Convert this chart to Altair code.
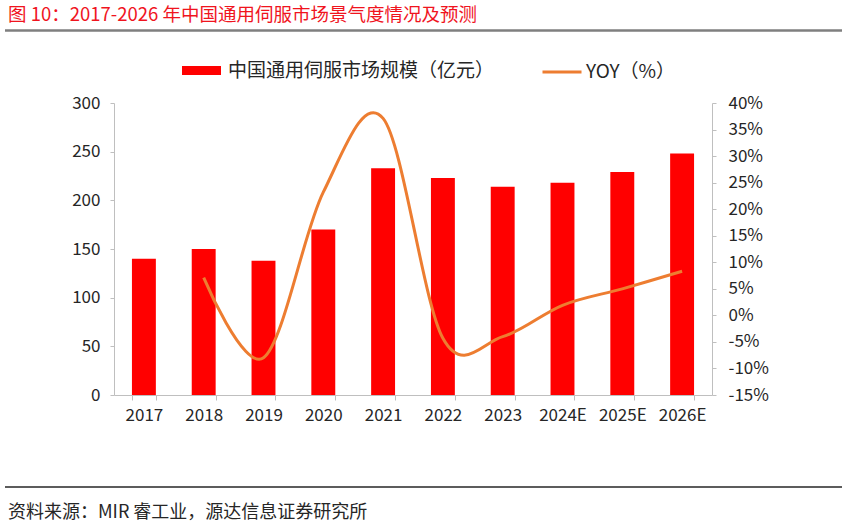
import altair as alt
import pandas as pd

years = ["2017", "2018", "2019", "2020", "2021", "2022", "2023", "2024E", "2025E", "2026E"]
market_size = [140, 150, 138, 170, 233, 223, 214, 218, 229, 248]
yoy_years = ["2018", "2019", "2020", "2021", "2022", "2023", "2024E", "2025E", "2026E"]
yoy_values = [7.1, -8.0, 23.2, 37.1, -4.3, -4.0, 1.9, 5.0, 8.3]
left_ticks = [0, 50, 100, 150, 200, 250, 300]
right_ticks = [-15, -10, -5, 0, 5, 10, 15, 20, 25, 30, 35, 40]

BAR_LABEL = "中国通用伺服市场规模（亿元）"
LINE_LABEL = "YOY（%）"
TITLE = "图 10：2017-2026 年中国通用伺服市场景气度情况及预测"
SOURCE = "资料来源：MIR 睿工业，源达信息证券研究所"

CJK = "Noto Sans CJK SC"

bars_df = pd.DataFrame({"year": years, "value": market_size, "series": BAR_LABEL})
line_df = pd.DataFrame({"year": yoy_years, "yoy": yoy_values, "series": LINE_LABEL})
one = pd.DataFrame({"k": [0]})

x_enc = alt.X(
    "year:N",
    sort=years,
    scale=alt.Scale(paddingInner=0.6, paddingOuter=0.3),
    axis=alt.Axis(
        title=None, labelAngle=0, tickBand="extent", domainColor="#BFBFBF",
        tickColor="#BFBFBF", tickSize=5, labelFont=CJK, labelFontSize=17,
        labelColor="#262626", labelPadding=7,
    ),
)

bars = alt.Chart(bars_df).mark_bar(color="#FF0000").encode(
    x=x_enc,
    y=alt.Y(
        "value:Q",
        scale=alt.Scale(domain=[0, 300], nice=False, zero=True),
        axis=alt.Axis(
            title=None, values=left_ticks, grid=False, domainColor="#BFBFBF",
            tickColor="#BFBFBF", tickSize=4, labelFont=CJK, labelFontSize=17,
            labelColor="#262626", labelPadding=10,
        ),
    ),
    fill=alt.Fill(
        "series:N",
        scale=alt.Scale(domain=[BAR_LABEL], range=["#FF0000"]),
        legend=alt.Legend(
            title=None, orient="none", legendX=68, legendY=-52, padding=0,
            symbolType="M-1,-0.23L1,-0.23L1,0.23L-1,0.23Z", symbolSize=1521,
            symbolStrokeWidth=0, labelFont=CJK, labelFontSize=19,
            labelColor="#262626", labelOffset=7, labelLimit=400,
        ),
    ),
)

line = alt.Chart(line_df).mark_line(
    strokeWidth=3, interpolate="cardinal", color="#ED7D31"
).encode(
    x=alt.X("year:N", sort=years),
    y=alt.Y(
        "yoy:Q",
        scale=alt.Scale(domain=[-15, 40], nice=False, zero=False),
        axis=alt.Axis(
            title=None, orient="right", values=right_ticks, grid=False,
            domainColor="#BFBFBF", tickColor="#BFBFBF", tickSize=4,
            labelFont=CJK, labelFontSize=17, labelColor="#262626",
            labelPadding=12, labelExpr="datum.value + '%'",
        ),
    ),
    stroke=alt.Stroke(
        "series:N",
        scale=alt.Scale(domain=[LINE_LABEL], range=["#ED7D31"]),
        legend=alt.Legend(
            title=None, orient="none", legendX=427, legendY=-52, padding=0,
            symbolType="stroke", symbolSize=1521, symbolStrokeWidth=3,
            labelFont=CJK, labelFontSize=19, labelColor="#262626", labelOffset=3,
            labelLimit=400,
        ),
    ),
)

title_text = alt.Chart(one).mark_text(
    text=TITLE, font=CJK, fontSize=18.5, color="#F0141E", align="left", baseline="middle"
).encode(x=alt.value(-106), y=alt.value(-88))

title_rule = alt.Chart(one).mark_rule(color="#7F7F7F", strokeWidth=2.5).encode(
    x=alt.value(-109), x2=alt.value(728), y=alt.value(-72.5)
)

footer_rule = alt.Chart(one).mark_rule(color="#262626", strokeWidth=1.5).encode(
    x=alt.value(-109), x2=alt.value(728), y=alt.value(384)
)

footer_text = alt.Chart(one).mark_text(
    text=SOURCE, font=CJK, fontSize=18, color="#262626", align="left", baseline="middle"
).encode(x=alt.value(-106), y=alt.value(410))

chart = alt.layer(bars, line, title_text, title_rule, footer_rule, footer_text).resolve_scale(
    y="independent"
).properties(
    width=598,
    height=292,
    autosize=alt.AutoSizeParams(type="none"),
    padding={"left": 114, "top": 103, "right": 135, "bottom": 132},
    background="white",
).configure_view(stroke=None)

chart.save("out.html", embed_options={"renderer": "svg", "actions": False})
